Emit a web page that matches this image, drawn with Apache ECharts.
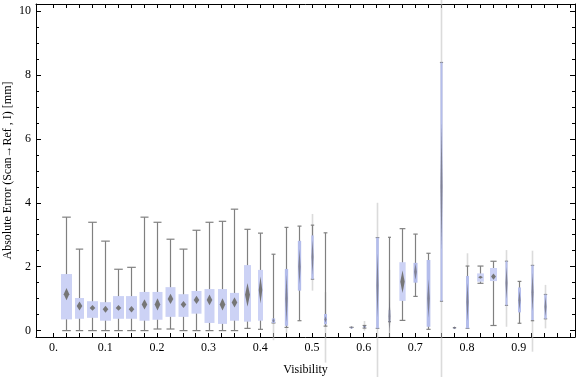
<!DOCTYPE html>
<html>
<head>
<meta charset="utf-8">
<script src="https://cdn.jsdelivr.net/npm/echarts@6/dist/echarts.min.js"></script>
<style>
html,body{margin:0;padding:0;background:#fff;}
#chart{width:576px;height:377px;}
</style>
</head>
<body>
<div id="chart"></div>
<script>
// ---- data ----
const visibility = [0.025,0.05,0.075,0.1,0.125,0.15,0.175,0.2,0.225,0.25,0.275,0.3,0.325,0.35,0.375,0.4,0.425,0.45,0.475,0.5,0.525,0.55,0.575,0.6,0.625,0.65,0.675,0.7,0.725,0.75,0.775,0.8,0.825,0.85,0.875,0.9,0.925,0.95];
const whiskerLow  = [0.00,0.00,0.00,0.00,0.00,0.00,0.00,0.05,0.05,0.00,0.00,0.00,0.00,0.00,0.07,0.04,0.24,0.10,0.31,1.61,0.14,null,0.10,0.08,0.07,0.28,0.32,1.07,0.04,0.92,0.09,0.07,1.48,0.16,0.79,0.23,0.31,0.37];
const quartile1   = [0.35,0.37,0.40,0.31,0.37,0.37,0.31,0.34,0.43,0.43,0.53,0.24,0.21,0.31,0.28,0.31,0.24,0.15,1.25,1.61,0.20,null,0.10,0.10,0.07,0.28,0.93,1.50,0.12,0.92,0.09,0.07,1.53,1.55,0.79,0.57,0.33,0.37];
const median      = [1.14,0.77,0.71,0.67,0.71,0.67,0.82,0.82,0.99,0.82,0.96,0.96,0.82,0.88,1.12,1.27,0.31,1.00,2.00,2.30,0.35,null,0.10,0.12,1.40,0.45,1.53,1.84,1.00,4.50,0.09,0.90,1.67,1.69,1.50,0.95,1.20,0.75];
const quartile3   = [1.77,1.02,0.92,0.89,1.08,1.08,1.21,1.21,1.36,1.14,1.24,1.30,1.30,1.18,2.05,1.90,0.38,1.93,2.81,2.98,0.52,null,0.10,0.14,2.91,0.64,2.14,2.12,2.21,8.39,0.09,1.71,1.79,1.96,2.17,1.35,2.04,1.13];
const whiskerHigh = [3.55,2.55,3.39,2.80,1.92,1.98,3.55,3.39,2.86,2.55,3.14,3.39,3.42,3.80,3.17,3.05,2.39,3.23,3.27,3.30,3.06,null,0.10,0.16,2.91,2.92,3.19,3.02,2.42,8.39,0.09,2.02,2.02,2.17,2.17,1.54,2.04,1.13];
const medianCI    = [0.19,0.14,0.09,0.11,0.09,0.10,0.16,0.19,0.16,0.11,0.13,0.17,0.19,0.16,0.37,0.42,0.06,0.75,0.55,0.55,0.10,null,0.00,0.02,1.00,0.60,0.35,0.25,0.60,2.00,0.00,0.60,0.05,0.10,0.50,0.30,0.60,0.30];
// faint smeared extension of some whiskers in the picture (null = none)
const smearLow    = [null,null,null,null,null,null,null,null,null,null,null,null,null,null,null,null,-0.30,-0.08,null,1.25,-1.00,null,null,0.00,-1.50,-0.20,null,null,null,-1.50,null,2.02,null,null,0.12,null,-0.66,0.07];
const smearHigh   = [null,null,null,null,null,null,null,null,null,null,null,null,null,null,null,null,0.24,0.10,null,3.65,1.20,null,null,0.30,4.00,1.90,null,null,null,10.60,null,2.42,null,null,2.52,null,2.50,1.43];

const xLabelValues = [0,0.1,0.2,0.3,0.4,0.5,0.6,0.7,0.8,0.9];
const xLabels = ['0.','0.1','0.2','0.3','0.4','0.5','0.6','0.7','0.8','0.9'];
const xTickValues = [0,0.025,0.05,0.075,0.1,0.125,0.15,0.175,0.2,0.225,0.25,0.275,0.3,0.325,0.35,0.375,0.4,0.425,0.45,0.475,0.5,0.525,0.55,0.575,0.6,0.625,0.65,0.675,0.7,0.725,0.75,0.775,0.8,0.825,0.85,0.875,0.9,0.925,0.95,0.975,1.0];
const yLabelValues = [0,2,4,6,8,10];
const yMinorTickValues = [0.5,1,1.5,2.5,3,3.5,4.5,5,5.5,6.5,7,7.5,8.5,9,9.5];

// ---- style (pixel widths of boxes as drawn) ----
const boxWidthPx = [11,9,11,11,11,11,10,10,10,10,10,10,9,9,7,5,3.3,3.3,3.3,2.3,3,0,3,3,2.7,1.7,6.3,4,3.7,2,2,3,6.7,7,2,3,2.3,2.3];

const FONT = '"Liberation Serif", "DejaVu Serif", serif';

const seriesData = [];
for (let i = 0; i < visibility.length; i++) {
  if (median[i] === null) continue;
  seriesData.push([visibility[i], whiskerLow[i], quartile1[i], median[i], quartile3[i], whiskerHigh[i], medianCI[i],
    smearLow[i] === null ? NaN : smearLow[i], smearHigh[i] === null ? NaN : smearHigh[i], i]);
}

function renderItem(params, api) {
  const x = api.value(0);
  const idx = api.value(9);
  const w = boxWidthPx[idx];
  const children = [];
  const pLo = api.coord([x, api.value(1)]);
  const pQ1 = api.coord([x, api.value(2)]);
  const pMed = api.coord([x, api.value(3)]);
  const pQ3 = api.coord([x, api.value(4)]);
  const pHi = api.coord([x, api.value(5)]);
  const cx = Math.round(pMed[0]) + 0.5;
  const sl = api.value(7), sh = api.value(8);
  if (!isNaN(sl) && !isNaN(sh)) {
    const a = api.coord([x, sl]), b = api.coord([x, sh]);
    children.push({type:'line', shape:{x1:cx, y1:a[1], x2:cx, y2:b[1]},
      style:{stroke:'rgba(190,190,190,0.55)', lineWidth:1.6}});
  }
  // whisker
  children.push({type:'line', shape:{x1:cx, y1:pLo[1], x2:cx, y2:pHi[1]},
    style:{stroke:'#808080', lineWidth:1.2}});
  const cap = Math.max(1.5, 0.3 * w + 1);
  children.push({type:'line', shape:{x1:cx-cap, y1:pLo[1], x2:cx+cap, y2:pLo[1]}, style:{stroke:'#808080', lineWidth:1.2}});
  children.push({type:'line', shape:{x1:cx-cap, y1:pHi[1], x2:cx+cap, y2:pHi[1]}, style:{stroke:'#808080', lineWidth:1.2}});
  // box
  if (w > 0) {
    children.push({type:'rect', shape:{x:cx - w/2, y:pQ3[1], width:w, height:Math.max(1, pQ1[1]-pQ3[1])},
      style:{fill: w < 5 ? '#b4bdeb' : '#ccd2f5'}});
  }
  // median marker (diamond)
  const ciPx = Math.abs(api.coord([x, api.value(3) + api.value(6)])[1] - pMed[1]);
  const hh = Math.max(1.5, ciPx);
  const hw = w >= 8 ? 2.8 : Math.max(1, w * 0.35);
  children.push({type:'polygon', shape:{points:[[cx, pMed[1]-hh],[cx+hw, pMed[1]],[cx, pMed[1]+hh],[cx-hw, pMed[1]]]},
    style:{fill: w >= 5 ? '#767676' : 'rgba(110,110,120,0.75)'}});
  return {type:'group', children};
}

const axisLineStyle = {color:'#000', width:1};
const chart = echarts.init(document.getElementById('chart'), null, {renderer:'canvas'});
chart.setOption({
  animation:false,
  backgroundColor:'#fff',
  grid:{left:36, right:1, top:4, bottom:40, containLabel:false, outerBoundsMode:'none'},
  xAxis:[
    {type:'value', min:-0.034, max:1.009, position:'bottom',
     axisLine:{show:true, onZero:false, lineStyle:axisLineStyle},
     axisTick:{show:true, inside:true, length:4, customValues:xTickValues, lineStyle:{color:'#000'}},
     axisLabel:{show:true, customValues:xLabelValues, margin:5, fontFamily:FONT, fontSize:12, color:'#000',
       formatter:function(v){ const i = xLabelValues.findIndex(t => Math.abs(t - v) < 1e-9); return i >= 0 ? xLabels[i] : ''; }},
     splitLine:{show:false},
     name:'Visibility', nameLocation:'middle', nameGap:27, nameMoveOverlap:false,
     nameTextStyle:{fontFamily:FONT, fontSize:12, color:'#000'}},
    {type:'value', min:-0.034, max:1.009, position:'top',
     axisLine:{show:true, onZero:false, lineStyle:axisLineStyle},
     axisTick:{show:true, inside:true, length:4, customValues:xTickValues, lineStyle:{color:'#000'}},
     axisLabel:{show:false}, splitLine:{show:false}}
  ],
  yAxis:[
    {type:'value', min:-0.2, max:10.22, position:'left',
     axisLine:{show:true, onZero:false, lineStyle:axisLineStyle},
     axisTick:{show:true, inside:true, length:5, customValues:yLabelValues, lineStyle:{color:'#000'}},
     axisLabel:{show:true, customValues:yLabelValues, margin:5, fontFamily:FONT, fontSize:12, color:'#000'},
     splitLine:{show:false},
     name:'Absolute Error (Scan\u2192Ref , I) [mm]', nameLocation:'middle', nameGap:22, nameMoveOverlap:false,
     nameTextStyle:{fontFamily:FONT, fontSize:12, color:'#000'}},
    {type:'value', min:-0.2, max:10.22, position:'right',
     axisLine:{show:true, onZero:false, lineStyle:axisLineStyle},
     axisTick:{show:true, inside:true, length:5, customValues:yLabelValues, lineStyle:{color:'#000'}},
     axisLabel:{show:false}, splitLine:{show:false}},
    {type:'value', min:-0.2, max:10.22, position:'left',
     axisLine:{show:false, onZero:false},
     axisTick:{show:true, inside:true, length:3, customValues:yMinorTickValues, lineStyle:{color:'#000'}},
     axisLabel:{show:false}, splitLine:{show:false}},
    {type:'value', min:-0.2, max:10.22, position:'right',
     axisLine:{show:false, onZero:false},
     axisTick:{show:true, inside:true, length:3, customValues:yMinorTickValues, lineStyle:{color:'#000'}},
     axisLabel:{show:false}, splitLine:{show:false}}
  ],
  series:[{
    type:'custom', xAxisIndex:0, yAxisIndex:0, clip:false,
    renderItem:renderItem,
    encode:{x:0, y:[1,2,3,4,5]},
    data:seriesData
  }]
});
</script>
</body>
</html>
